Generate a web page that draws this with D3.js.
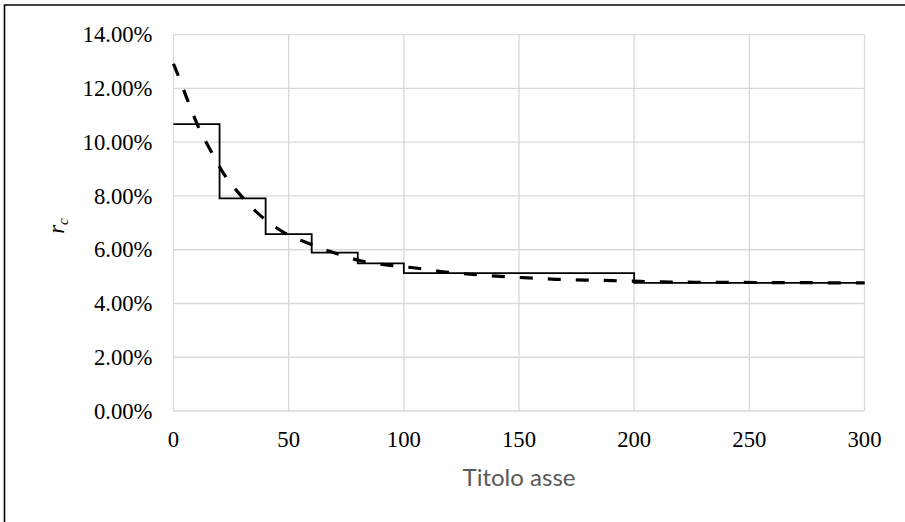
<!DOCTYPE html>
<html>
<head>
<meta charset="utf-8">
<script src="https://cdn.jsdelivr.net/npm/d3@7"></script>
<style>
  html, body { margin: 0; padding: 0; background: #fff; }
  svg { display: block; }
</style>
</head>
<body>
<svg id="chart" width="905" height="522"></svg>
<script>
// Step series: class boundaries and the rate held over each class
const stepEdges = [0, 20, 40, 60, 80, 100, 200, 300];
const stepRates = [10.67, 7.91, 6.58, 5.89, 5.49, 5.13, 4.77];

// Fitted (dashed) series
const fitX = [0, 1.5, 6.5, 10.75, 16.6, 22, 28.9, 38, 48, 58.5, 70, 82, 94, 106, 118, 130, 142, 154, 166, 179, 191, 203, 215, 240, 270, 300];
const fitY = [12.92, 12.6, 11.48, 10.58, 9.62, 8.8, 8.05, 7.25, 6.64, 6.24, 5.88, 5.57, 5.42, 5.31, 5.17, 5.08, 5.01, 4.95, 4.90, 4.87, 4.85, 4.82, 4.80, 4.785, 4.775, 4.765];

// Axis ticks
const xTicks = [0, 50, 100, 150, 200, 250, 300];
const yTicks = [0, 2, 4, 6, 8, 10, 12, 14];

const svg = d3.select("#chart");

const x = d3.scaleLinear().domain([0, 300]).range([173.5, 864.5]);
const y = d3.scaleLinear().domain([0, 14]).range([411, 34.7]);

const serif = "'Liberation Serif', 'Times New Roman', serif";

// Outer frame (top and left edges)
svg.append("path")
  .attr("d", "M4.5,522 V5 H905")
  .attr("fill", "none")
  .attr("stroke", "#000")
  .attr("stroke-width", 1.6);

// Gridlines
const grid = svg.append("g").attr("stroke", "#d9d9d9").attr("stroke-width", 1.3);
grid.selectAll("line.h").data(yTicks).join("line")
  .attr("class", "h")
  .attr("x1", x(0)).attr("x2", x(300))
  .attr("y1", d => y(d)).attr("y2", d => y(d));
grid.selectAll("line.v").data(xTicks).join("line")
  .attr("class", "v")
  .attr("x1", d => x(d)).attr("x2", d => x(d))
  .attr("y1", y(0)).attr("y2", y(14));

// Y tick labels
const fmt = d3.format(".2f");
svg.append("g").selectAll("text").data(yTicks).join("text")
  .attr("x", 152.5)
  .attr("y", d => y(d))
  .attr("dy", "0.34em")
  .attr("text-anchor", "end")
  .attr("font-family", serif)
  .attr("font-size", "22.7px")
  .attr("fill", "#000")
  .text(d => fmt(d) + "%");

// X tick labels
svg.append("g").selectAll("text").data(xTicks).join("text")
  .attr("x", d => x(d))
  .attr("y", 446.5)
  .attr("text-anchor", "middle")
  .attr("font-family", serif)
  .attr("font-size", "22.7px")
  .attr("fill", "#000")
  .text(d => d);

// X axis title, sized to its target width
const xTitle = svg.append("text")
  .attr("x", (x(0) + x(300)) / 2)
  .attr("y", 486)
  .attr("text-anchor", "middle")
  .attr("font-family", "Lato, 'Open Sans', sans-serif")
  .attr("font-size", "24px")
  .attr("fill", "#595959")
  .text("Titolo asse");
const w = xTitle.node().getComputedTextLength();
if (w > 0) xTitle.attr("font-size", (24 * 113 / w).toFixed(2) + "px");

// Y axis title r_c
const yTitle = svg.append("text")
  .attr("transform", "translate(64,226) rotate(-90)")
  .attr("text-anchor", "middle")
  .attr("font-family", serif)
  .attr("font-style", "italic")
  .attr("font-size", "22.7px")
  .attr("fill", "#000");
yTitle.append("tspan").text("r");
yTitle.append("tspan").attr("font-size", "15px").attr("dy", "4").text("c");

// Step series
const stepPts = stepRates.map((v, i) => [stepEdges[i], v]);
stepPts.push([stepEdges[stepEdges.length - 1], stepRates[stepRates.length - 1]]);
svg.append("path")
  .datum(stepPts)
  .attr("fill", "none")
  .attr("stroke", "#000")
  .attr("stroke-width", 1.8)
  .attr("d", d3.line().x(d => x(d[0])).y(d => y(d[1])).curve(d3.curveStepAfter));

// Fitted series (dashed)
const fitPts = fitX.map((v, i) => [v, fitY[i]]);
svg.append("path")
  .datum(fitPts)
  .attr("fill", "none")
  .attr("stroke", "#000")
  .attr("stroke-width", 3.2)
  .attr("stroke-dasharray", "13,15")
  .attr("d", d3.line().x(d => x(d[0])).y(d => y(d[1])).curve(d3.curveMonotoneX));
</script>
</body>
</html>
